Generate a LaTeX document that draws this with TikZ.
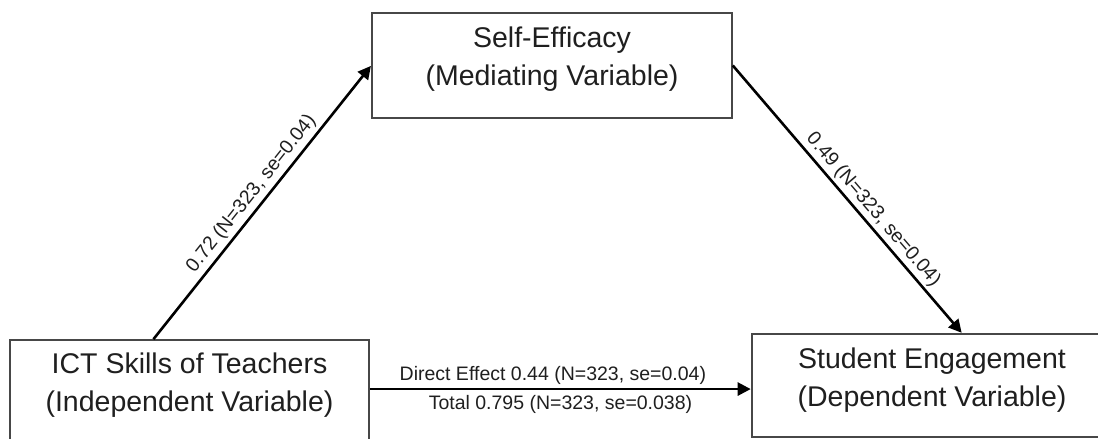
\documentclass[tikz,border=0pt]{standalone}
\usepackage{fontspec}
\setmainfont{Liberation Sans}
\usetikzlibrary{arrows.meta,calc}
\begin{document}
\begin{tikzpicture}[x=1pt,y=-1pt,
  varbox/.style={draw=black!72, line width=1.6pt, rectangle, inner sep=0pt, fill=none},
  boxtext/.style={align=center, text=black!88, inner sep=0pt, font=\fontsize{28.5}{38}\selectfont},
  conn/.style={draw=black, line width=2.6pt, -{Triangle[length=13pt,width=13pt]}, shorten >=0.5pt},
  elabel/.style={text=black!88, font=\fontsize{19.5}{22}\selectfont, inner sep=0pt}
]
\useasboundingbox (0,0) rectangle (1098,439);
\clip (0,0) rectangle (1098,439);
\fill[white] (0,0) rectangle (1098,439);
% boxes
\node[varbox, minimum width=360pt, minimum height=105pt] (med) at (552,65.5) {};
\node[varbox, minimum width=359pt, minimum height=101pt] (ict) at (189.5,390.5) {};
\node[varbox, minimum width=360pt, minimum height=103pt] (eng) at (932,385.5) {};
% box texts
\node[boxtext] (medt) at (552,59.5) {Self-Efficacy\\(Mediating Variable)};
\node[boxtext] (ictt) at (189.5,385) {ICT Skills of Teachers\\(Independent Variable)};
\node[boxtext] (engt) at (932,380) {Student Engagement\\(Dependent Variable)};
% connector anchors
\coordinate (ictout) at ($(ict.north west)!0.4!(ict.north east)$);
\coordinate (engtop) at ($(eng.north west)!0.583!(eng.north east)$);
\coordinate (engin) at ($(eng.north west)!0.534!(eng.south west)$);
% connectors
\draw[conn] (ictout) -- node[elabel, midway, sloped, above=3.5pt] {0.72 (N=323, se=0.04)} (med.west);
\draw[conn] (med.east) -- node[elabel, pos=0.57, sloped, above=2.5pt] {0.49 (N=323, se=0.04)} (engtop);
\draw[conn] (ict.east |- engin) -- node[elabel, pos=0.48, anchor=base, yshift=9pt] {Direct Effect 0.44 (N=323, se=0.04)}
  node[elabel, pos=0.5, anchor=base, yshift=-20pt] {Total 0.795 (N=323, se=0.038)} (engin);
\end{tikzpicture}
\end{document}
